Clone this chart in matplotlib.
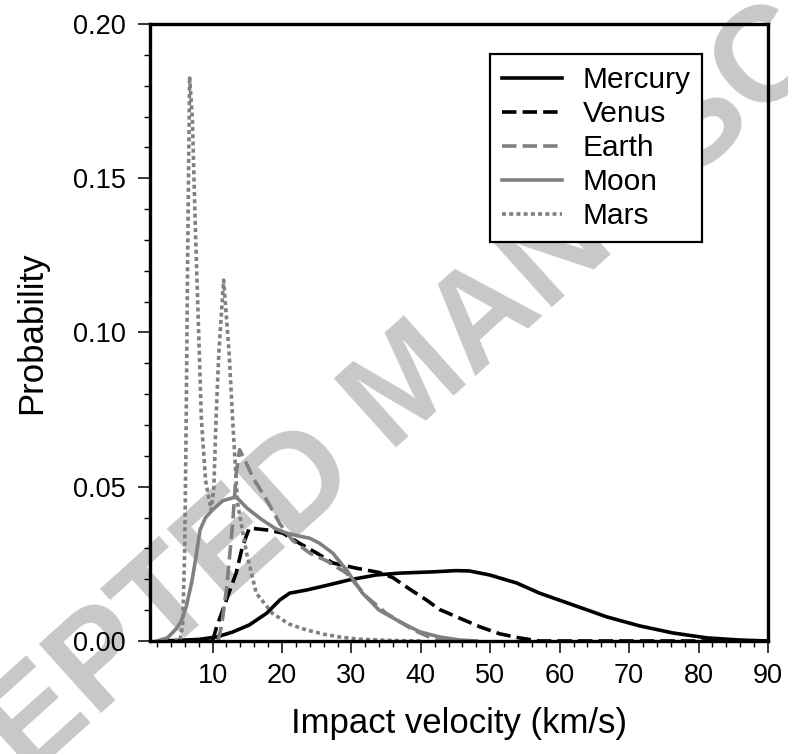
"""
Impact velocity distributions for the terrestrial planets and the Moon
"""
import matplotlib
matplotlib.use("Agg")
import matplotlib.pyplot as plt
from matplotlib.ticker import MultipleLocator

plt.rcParams["font.family"] = ["Liberation Sans", "DejaVu Sans"]

# Values (impact velocity in km/s, probability)
mercury_v = [2.5, 5, 8, 10.6, 12.9, 15.3, 17.8, 19.7, 21.1, 23.5, 26.4, 29.7, 33.6, 37,
             41.7, 45, 47, 49.9, 53.8, 57.1, 61.9, 66.8, 71.5, 76.3, 81.2, 86, 90]
mercury_p = [0, 0.0002, 0.0005, 0.0013, 0.0029, 0.0052, 0.009, 0.0133, 0.0155, 0.0165,
             0.018, 0.0198, 0.0214, 0.022, 0.0224, 0.0228, 0.0227, 0.0214, 0.0188, 0.0155,
             0.0117, 0.0078, 0.0049, 0.0026, 0.001, 0.0003, 0.0]

venus_v = [10.0, 10.6, 12.0, 13.4, 14.3, 15.3, 17.8, 20.1, 22.5, 25.0, 27.3, 30.7, 34.0,
           36.0, 38.4, 40.8, 42.7, 45.6, 48.5, 51.4, 54.2, 57, 90]
venus_p = [0, 0.0046, 0.0133, 0.022, 0.0305, 0.0366, 0.036, 0.035, 0.0317, 0.0285, 0.0253,
           0.0236, 0.0222, 0.0205, 0.0168, 0.0133, 0.0102, 0.0074, 0.0046, 0.0023, 0.001,
           0, 0]

earth_v = [10.8, 11.3, 12.0, 12.9, 13.4, 13.9, 15.0, 15.8, 17.8, 19.7, 21.5, 24.0, 26.4,
           29.3, 32.2, 35.0, 37.0, 39.0, 41, 44]
earth_p = [0, 0.005, 0.0165, 0.038, 0.054, 0.062, 0.057, 0.053, 0.0457, 0.038, 0.0327,
           0.0285, 0.026, 0.022, 0.0143, 0.009, 0.0062, 0.0035, 0.0015, 0]

moon_v = [2.0, 3.5, 4.8, 5.5, 6.2, 7.0, 7.6, 8.2, 9.0, 10.0, 11.5, 13.4, 15.0, 17.0, 19.0,
          20.6, 22.5, 24.0, 25.4, 27.3, 29.3, 31.6, 34.0, 37.0, 39.8, 42.7, 45.6, 48]
moon_p = [0, 0.001, 0.004, 0.0065, 0.011, 0.019, 0.027, 0.036, 0.040, 0.0425, 0.0455,
          0.0467, 0.043, 0.0395, 0.0365, 0.035, 0.034, 0.0333, 0.0317, 0.0285, 0.023,
          0.0155, 0.010, 0.0062, 0.003, 0.0013, 0.0003, 0]

mars_v = [4.5, 5.3, 5.7, 6.0, 6.2, 6.4, 6.7, 7.1, 7.5, 8.0, 8.4, 9.0, 9.8, 10.2, 10.5,
          10.9, 11.6, 12.4, 12.9, 13.6, 14.9, 16.3, 18.6, 21, 23.5, 26, 28.3, 31, 35, 40]
mars_p = [0, 0.0, 0.005, 0.03, 0.07, 0.12, 0.183, 0.169, 0.136, 0.1, 0.0716, 0.052, 0.0424,
          0.05, 0.0716, 0.093, 0.117, 0.093, 0.0716, 0.0447, 0.0285, 0.0155, 0.009, 0.0055,
          0.0036, 0.0022, 0.0013, 0.0006, 0.0002, 0]

gray = "#808080"
lw = 2.6

fig = plt.figure(figsize=(7.88, 7.54), dpi=100)
ax = fig.add_axes([0.1904, 0.1499, 0.7842, 0.8183])
ax.set_zorder(1)
ax.patch.set_alpha(0)

# watermark sits behind everything
fig.text(0.522, 0.486, "ACCEPTED MANUSCRIPT", fontsize=97, fontweight="bold",
         color="#c8c8c8", rotation=42, rotation_mode="anchor",
         ha="center", va="center", zorder=-1)

ax.plot(mercury_v, mercury_p, color="black", lw=lw, ls="-", label="Mercury")
ax.plot(venus_v, venus_p, color="black", lw=lw, ls=(0, (4.0, 1.7)), label="Venus")
ax.plot(earth_v, earth_p, color=gray, lw=lw, ls=(0, (4.0, 1.7)), label="Earth")
ax.plot(moon_v, moon_p, color=gray, lw=lw, ls="-", label="Moon")
ax.plot(mars_v, mars_p, color=gray, lw=lw, ls=(0, (1.1, 0.9)), label="Mars")

ax.set_xlim(1, 90)
ax.set_ylim(0, 0.2)
ax.xaxis.set_major_locator(MultipleLocator(10))
ax.xaxis.set_minor_locator(MultipleLocator(2))
ax.yaxis.set_major_locator(MultipleLocator(0.05))
ax.yaxis.set_minor_locator(MultipleLocator(0.01))
ax.yaxis.set_major_formatter(plt.FormatStrFormatter("%.2f"))

for s in ax.spines.values():
    s.set_linewidth(2.4)
ax.tick_params(which="major", direction="out", length=8.5, width=1.1, labelsize=19.5)
ax.tick_params(which="minor", direction="out", length=4, width=1.0)
ax.tick_params(axis="x", which="major", pad=7)
ax.tick_params(axis="y", which="major", pad=9)

ax.set_xlabel("Impact velocity (km/s)", fontsize=25, labelpad=13)
ax.set_ylabel("Probability", fontsize=25, labelpad=18)

leg = ax.legend(loc="upper left", bbox_to_anchor=(0.55, 0.951), borderaxespad=0,
                fontsize=21.5, frameon=True, fancybox=False, edgecolor="black",
                framealpha=1, handlelength=2.0, handletextpad=0.7,
                labelspacing=0.2, borderpad=0.4)
leg.get_frame().set_linewidth(1.6)

fig.savefig("out.png", dpi=100)
